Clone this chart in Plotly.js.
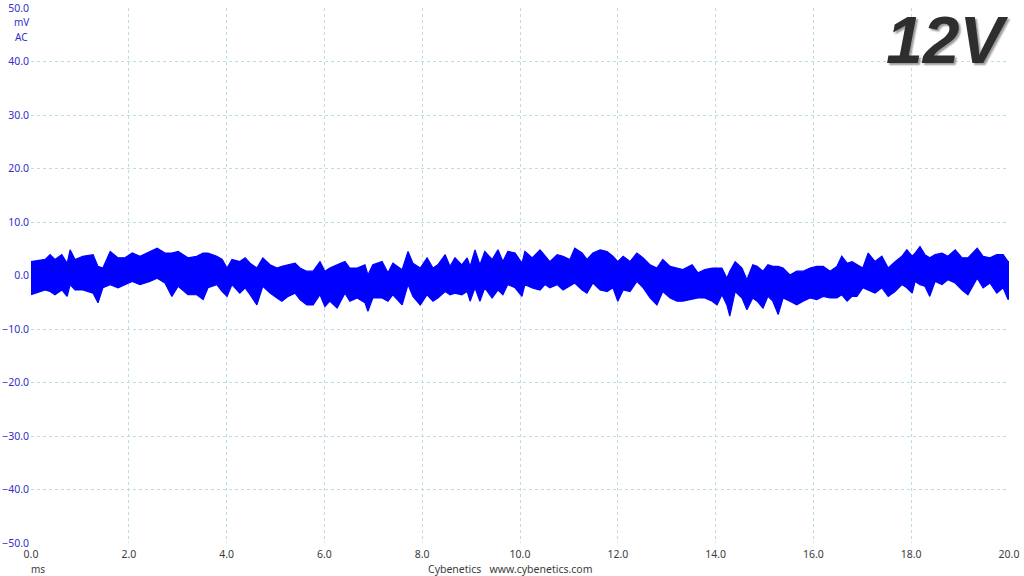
<!DOCTYPE html>
<html>
<head>
<meta charset="utf-8">
<script src="https://cdn.plot.ly/plotly-3.0.1.min.js"></script>
<style>html,body{margin:0;padding:0;background:#fff;}#chart{width:1024px;height:576px;}</style>
</head>
<body>
<div id="chart"></div>
<script>
// Time (ms) at which the envelope of the noise trace was read
const timeMs = [0.00,0.29,0.39,0.49,0.63,0.74,0.80,0.90,1.06,1.27,1.37,1.47,1.62,1.78,1.92,2.07,2.23,2.43,2.58,2.74,2.88,3.01,3.21,
3.39,3.52,3.62,3.80,3.91,4.01,4.11,4.27,4.38,4.48,4.62,4.74,4.89,5.03,5.13,5.26,5.40,5.50,5.64,5.77,5.91,6.01,6.11,6.26,6.42,6.52,6.67,
6.83,6.89,6.99,7.18,7.30,7.40,7.59,7.71,7.81,7.96,8.10,8.22,8.32,8.47,8.57,8.67,8.81,8.92,8.98,9.08,9.18,9.28,9.43,9.55,9.65,9.75,9.90,10.04,
10.10,10.25,10.41,10.51,10.61,10.76,10.88,11.02,11.12,11.27,11.37,11.49,11.64,11.78,11.90,12.00,12.11,12.25,12.39,12.52,12.66,12.80,12.92,13.07,13.21,13.33,
13.52,13.64,13.78,13.93,14.03,14.13,14.23,14.29,14.40,14.54,14.64,14.76,14.85,14.97,15.07,15.17,15.28,15.38,15.52,15.66,15.79,15.93,16.07,16.20,16.34,16.48,16.58,16.69,16.79,
16.89,17.01,17.12,17.26,17.40,17.53,17.67,17.81,17.91,18.02,18.08,18.18,18.28,18.38,18.49,18.63,18.75,18.90,19.04,19.16,19.35,19.47,19.61,19.75,19.88,19.98,20.00];
// Upper envelope (mV)
const upperMv = [2.6,3.0,3.9,3.0,3.9,2.3,4.8,3.0,3.6,3.9,1.7,1.4,4.5,3.3,3.3,4.2,3.6,4.5,5.1,4.2,4.2,4.5,3.3,
3.6,4.2,4.2,3.6,3.0,1.4,3.0,2.6,3.3,2.3,1.4,3.3,2.0,1.4,1.7,2.0,2.3,1.4,0.8,0.8,2.6,0.8,1.4,2.0,2.6,1.4,1.4,
2.0,0.1,2.0,2.6,0.5,2.3,1.1,4.5,2.3,1.4,3.3,1.4,2.0,3.9,1.7,3.3,2.0,3.3,1.7,4.8,2.0,4.5,3.0,4.8,2.6,4.5,4.2,2.3,
4.5,3.3,4.8,3.6,2.6,3.9,3.6,3.0,5.1,4.2,3.0,4.2,4.8,4.5,3.6,2.6,3.6,2.6,4.2,3.3,2.0,1.4,3.0,1.7,1.4,1.1,
2.0,0.5,1.1,1.4,1.4,1.4,-0.5,0.8,2.6,1.4,-0.8,2.0,1.7,0.8,2.0,1.7,1.7,1.4,0.1,0.8,0.8,1.4,1.7,1.7,0.8,1.7,3.6,2.3,2.6,
2.0,1.4,4.2,2.6,3.6,1.4,2.6,3.6,4.8,3.6,4.2,5.4,3.9,3.3,3.9,4.2,3.6,4.8,3.3,3.3,5.1,3.6,3.3,3.9,3.9,2.6,2.6];
// Lower envelope (mV)
const lowerMv = [-3.6,-2.7,-3.0,-3.6,-2.7,-3.9,-1.7,-2.7,-2.7,-3.3,-5.1,-2.3,-1.7,-2.3,-1.7,-1.1,-1.7,-1.1,-0.5,-1.4,-3.9,-2.0,-3.6,
-3.6,-4.5,-2.3,-1.7,-3.0,-3.9,-1.7,-3.3,-2.3,-3.6,-5.5,-2.0,-3.3,-4.2,-4.8,-3.9,-3.3,-4.5,-5.5,-5.5,-3.6,-5.8,-4.8,-6.1,-3.3,-4.8,-4.2,
-5.1,-6.7,-4.2,-4.2,-4.8,-3.6,-5.5,-1.7,-3.9,-5.5,-3.6,-4.8,-4.2,-3.0,-3.6,-3.3,-3.6,-3.0,-4.8,-2.3,-4.8,-2.3,-4.2,-2.7,-3.6,-1.7,-2.3,-3.9,
-1.7,-2.3,-2.7,-1.7,-2.3,-1.7,-2.7,-2.0,-1.4,-2.7,-3.3,-1.4,-2.7,-3.0,-2.3,-4.8,-2.7,-3.0,-1.1,-2.3,-4.2,-5.5,-3.0,-4.2,-4.8,-4.8,
-4.5,-4.2,-4.2,-4.8,-5.5,-3.6,-5.5,-7.6,-3.0,-4.2,-6.4,-4.2,-4.8,-6.1,-3.9,-4.8,-7.3,-4.2,-4.8,-5.5,-4.8,-4.2,-4.5,-3.9,-4.2,-4.2,-3.6,-4.8,-3.9,
-3.9,-2.3,-2.7,-3.3,-2.3,-3.9,-3.0,-1.7,-2.3,-3.3,-1.1,-1.7,-2.0,-3.9,-1.1,-1.7,-0.8,-1.4,-2.7,-3.6,-0.5,-2.3,-1.4,-3.3,-2.3,-4.5,-4.2];

const xTickVals = [0,2,4,6,8,10,12,14,16,18,20];
const yTickVals = [-50,-40,-30,-20,-10,0,10,20,30,40,50];
const titleText = '12V';
const unitY = ['mV','AC'];
const unitX = 'ms';
const creditText = 'Cybenetics\u00a0\u00a0 www.cybenetics.com';

const traceBlue = '#0000ff';
const traces = [
  {x: timeMs, y: lowerMv, type: 'scatter', mode: 'lines', line: {color: traceBlue, width: 1.2}, hoverinfo: 'skip', showlegend: false},
  {x: timeMs, y: upperMv, type: 'scatter', mode: 'lines', line: {color: traceBlue, width: 1.2}, fill: 'tonexty', fillcolor: traceBlue, hoverinfo: 'skip', showlegend: false}
];

const gridCol = '#bddde6';
const font = 'Noto Sans, DejaVu Sans, sans-serif';
const layout = {
  width: 1024, height: 576,
  margin: {l: 31, r: 15, t: 8, b: 33, pad: 0},
  paper_bgcolor: '#ffffff', plot_bgcolor: '#ffffff',
  showlegend: false,
  xaxis: {
    range: [0, 20], tickvals: xTickVals, tickformat: '.1f',
    showgrid: true, gridcolor: gridCol, griddash: 'dot', gridwidth: 1,
    zeroline: false, showline: false, ticks: '',
    ticklabelstandoff: 3,
    tickfont: {family: font, size: 10.5, color: '#3c3c3c'}
  },
  yaxis: {
    range: [-50, 50], tickvals: yTickVals, tickformat: '.1f',
    showgrid: true, gridcolor: gridCol, griddash: 'dot', gridwidth: 1,
    zeroline: false, showline: false, ticks: '',
    ticklabelstandoff: 1,
    tickfont: {family: font, size: 10.5, color: '#3030c8'}
  },
  annotations: [
    {text: unitY[0], xref: 'paper', yref: 'paper', x: -0.0102, y: 0.9738, showarrow: false, xanchor: 'center', yanchor: 'middle', font: {family: font, size: 10, color: '#3030c8'}},
    {text: unitY[1], xref: 'paper', yref: 'paper', x: -0.0102, y: 0.9458, showarrow: false, xanchor: 'center', yanchor: 'middle', font: {family: font, size: 10, color: '#3030c8'}},
    {text: unitX, xref: 'paper', yref: 'paper', x: 0.0072, y: -0.0486, showarrow: false, xanchor: 'center', yanchor: 'middle', font: {family: font, size: 10, color: '#3c3c3c'}},
    {text: creditText, xref: 'paper', yref: 'paper', x: 0.4898, y: -0.0486, showarrow: false, xanchor: 'center', yanchor: 'middle', font: {family: font, size: 10.5, color: '#3c3c3c'}},
    {text: titleText, xref: 'paper', yref: 'paper', x: 0.9366, y: 0.9402, showarrow: false, xanchor: 'center', yanchor: 'middle',
     font: {family: 'Liberation Sans, Arial, sans-serif', size: 66, color: '#2e2e2e', weight: 'bold', style: 'italic', shadow: '2px 2px 2px #9a9a9a'}}
  ]
};

Plotly.newPlot('chart', traces, layout, {staticPlot: true, displayModeBar: false});
</script>
</body>
</html>
